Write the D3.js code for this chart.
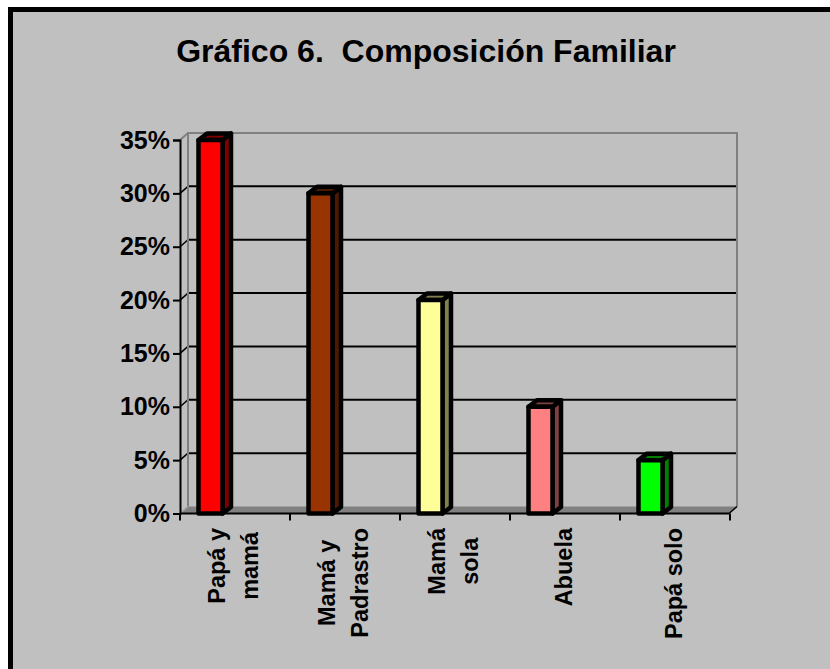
<!DOCTYPE html>
<html>
<head>
<meta charset="utf-8">
<script src="https://cdnjs.cloudflare.com/ajax/libs/d3/7.8.5/d3.min.js"></script>
<style>
html, body { margin: 0; padding: 0; background: #fff; }
svg { display: block; }
text { font-family: "Liberation Sans", Arial, sans-serif; font-weight: bold; fill: #000; }
</style>
</head>
<body>
<svg id="chart" width="830" height="669"></svg>
<script>
var categories = [["Papá y", "mamá"], ["Mamá y", "Padrastro"], ["Mamá", "sola"], ["Abuela"], ["Papá solo"]];
var values = [35, 30, 20, 10, 5];
var barColors = ["#ff0000", "#993300", "#ffff99", "#ff8080", "#00ff00"];
var sideColors = ["#800000", "#4d1a00", "#80804d", "#804040", "#008000"];
var yTicks = [0, 5, 10, 15, 20, 25, 30, 35];

var svg = d3.select("#chart");

// 3d offset of the back wall
var dx = 8, dy = 7;

var x = d3.scaleBand().domain(d3.range(values.length)).range([180, 730]);
var y = d3.scaleLinear().domain([0, 35]).range([513.5, 140]);

// background with the thick border, open on the right and bottom
svg.append("rect").attr("x", 8).attr("y", 7).attr("width", 822).attr("height", 662).attr("fill", "#000");
svg.append("rect").attr("x", 13).attr("y", 12).attr("width", 817).attr("height", 657).attr("fill", "#c0c0c0");

svg.append("text")
	.attr("x", 426)
	.attr("y", 62)
	.attr("text-anchor", "middle")
	.attr("font-size", 32)
	.attr("xml:space", "preserve")
	.text("Gráfico 6.  Composición Familiar");

var x0 = x.range()[0], x1 = x.range()[1];

// floor
svg.append("polygon")
	.attr("points", [[x0, y(0)], [x0 + dx, y(0) - dy], [x1 + dx - 1, y(0) - dy], [x1 - 1, y(0)]].join(" "))
	.attr("fill", "#808080");

// gridlines along the back wall
svg.append("g").selectAll("line")
	.data(yTicks.slice(1, -1))
	.enter().append("line")
	.attr("x1", x0 + dx).attr("x2", x1 + dx - 1)
	.attr("y1", function(d) { return y(d) - dy; })
	.attr("y2", function(d) { return y(d) - dy; })
	.attr("stroke", "#000").attr("stroke-width", 2);

// little diagonal from each axis tick up to the wall
svg.append("g").selectAll("line")
	.data(yTicks.slice(1, -1))
	.enter().append("line")
	.attr("x1", x0).attr("x2", x0 + dx)
	.attr("y1", function(d) { return y(d); })
	.attr("y2", function(d) { return y(d) - dy; })
	.attr("stroke", "#000").attr("stroke-width", 1.5);

// wall outline
svg.append("path")
	.attr("d", "M" + (x0 + dx) + "," + (y(0) - dy) + "V" + (y(35) - dy) + "H" + (x1 + dx - 1) + "V" + (y(0) - dy))
	.attr("fill", "none").attr("stroke", "#808080").attr("stroke-width", 2);
svg.append("path")
	.attr("d", "M" + x0 + "," + y(35) + "L" + (x0 + dx) + "," + (y(35) - dy))
	.attr("fill", "none").attr("stroke", "#808080").attr("stroke-width", 2);
svg.append("path")
	.attr("d", "M" + x0 + "," + y(0) + "L" + (x0 + dx) + "," + (y(0) - dy))
	.attr("fill", "none").attr("stroke", "#a0a0a0").attr("stroke-width", 1.5);
svg.append("path")
	.attr("d", "M" + (x1 - 1) + "," + y(0) + "L" + (x1 + dx - 1) + "," + (y(0) - dy))
	.attr("fill", "none").attr("stroke", "#000").attr("stroke-width", 1.5);

// axes
var yAxis = d3.axisLeft(y).tickValues(yTicks).tickSize(7).tickPadding(3)
	.tickFormat(function(d) { return d + "%"; });
var yG = svg.append("g").attr("transform", "translate(" + x0 + ",0)").call(yAxis);
yG.selectAll("path, line").attr("stroke", "#000").attr("stroke-width", 2);
yG.selectAll("text").attr("font-size", 25).attr("font-family", "Liberation Sans").attr("font-weight", "bold").attr("fill", "#000");

var xTicks = d3.range(values.length + 1);
svg.append("line")
	.attr("x1", x0).attr("x2", x1 - 1).attr("y1", y(0)).attr("y2", y(0))
	.attr("stroke", "#000").attr("stroke-width", 2);
svg.append("g").selectAll("line")
	.data(xTicks)
	.enter().append("line")
	.attr("x1", function(d) { return x0 + d * x.step(); })
	.attr("x2", function(d) { return x0 + d * x.step(); })
	.attr("y1", y(0)).attr("y2", y(0) + 7)
	.attr("stroke", "#000").attr("stroke-width", 2);

// bars
var barW = 24, barOffset = 18.5, barDepth = 8.5, barRise = 6.5, barStroke = 4.5;
var bars = svg.append("g").selectAll("g")
	.data(values)
	.enter().append("g")
	.attr("transform", function(d, i) {
		return "translate(" + (x(i) + barOffset) + "," + y(d) + ")";
	});

bars.append("polygon")
	.attr("points", function(d) {
		var h = y(0) - y(d);
		return [[barW, 0], [barW + barDepth, -barRise], [barW + barDepth, h - barRise], [barW, h]].join(" ");
	})
	.attr("fill", function(d, i) { return sideColors[i]; })
	.attr("stroke", "#000").attr("stroke-width", barStroke).attr("stroke-linejoin", "round");
bars.append("polygon")
	.attr("points", [[0, 0], [barDepth, -barRise], [barW + barDepth, -barRise], [barW, 0]].join(" "))
	.attr("fill", function(d, i) { return sideColors[i]; })
	.attr("stroke", "#000").attr("stroke-width", barStroke).attr("stroke-linejoin", "round");
bars.append("rect")
	.attr("width", barW)
	.attr("height", function(d) { return y(0) - y(d); })
	.attr("fill", function(d, i) { return barColors[i]; })
	.attr("stroke", "#000").attr("stroke-width", barStroke).attr("stroke-linejoin", "round");

// rotated category labels, longest line starts just below the axis
var labelTop = 528;
var labels = svg.append("g").selectAll("g")
	.data(categories)
	.enter().append("g")
	.attr("transform", function(d, i) {
		return "translate(" + (x(i) + x.bandwidth() / 2 + 6.5) + ",0) rotate(-90)";
	});
labels.selectAll("text")
	.data(function(d) { return d.map(function(t, j) { return { t: t, j: j, n: d.length }; }); })
	.enter().append("text")
	.attr("font-size", 23.5)
	.attr("text-anchor", "middle")
	.attr("y", function(d) { return (d.j - (d.n - 1) / 2) * 33; })
	.text(function(d) { return d.t; });
labels.each(function() {
	var t = d3.select(this).selectAll("text");
	var longest = d3.max(t.nodes(), function(n) { return n.getComputedTextLength(); });
	t.attr("x", -(labelTop + longest / 2));
});
</script>
</body>
</html>
